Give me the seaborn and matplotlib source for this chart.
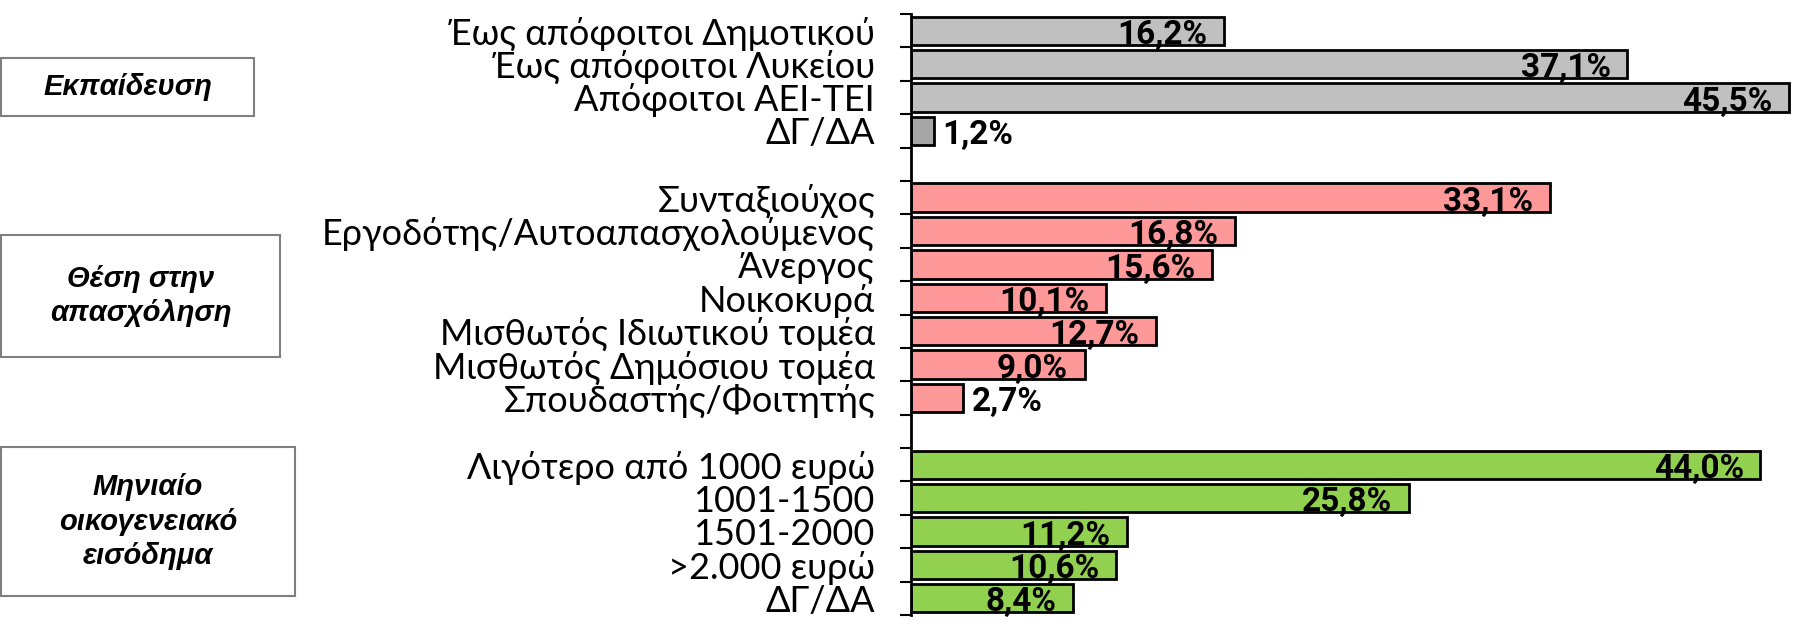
import matplotlib
matplotlib.use("Agg")
import matplotlib.pyplot as plt
from matplotlib.patches import Rectangle
import seaborn as sns
import pandas as pd
import numpy as np

# ---- data ----
edu_labels = ["Έως απόφοιτοι Δημοτικού", "Έως απόφοιτοι Λυκείου", "Απόφοιτοι ΑΕΙ-ΤΕΙ", "ΔΓ/ΔΑ"]
edu_values = [16.2, 37.1, 45.5, 1.2]
job_labels = ["Συνταξιούχος", "Εργοδότης/Αυτοαπασχολούμενος", "Άνεργος", "Νοικοκυρά",
              "Μισθωτός Ιδιωτικού τομέα", "Μισθωτός Δημόσιου τομέα", "Σπουδαστής/Φοιτητής"]
job_values = [33.1, 16.8, 15.6, 10.1, 12.7, 9.0, 2.7]
inc_labels = ["Λιγότερο από 1000 ευρώ", "1001-1500", "1501-2000", ">2.000 ευρώ", "ΔΓ/ΔΑ"]
inc_values = [44.0, 25.8, 11.2, 10.6, 8.4]
group_titles = ["Εκπαίδευση", "Θέση στην\nαπασχόληση", "Μηνιαίο\nοικογενειακό\nεισόδημα"]

# ---- styling ----
GRAY, DARKGRAY, PINK, GREEN = "#C0C0C0", "#A6A6A6", "#FF9999", "#92D050"

sns.set_style("white")
plt.rcParams["font.family"] = ["Lato", "DejaVu Sans"]
plt.rcParams["text.color"] = "black"
plt.rcParams["ytick.color"] = "black"
plt.rcParams["ytick.labelcolor"] = "black"

labels, values, pos, colors = [], [], [], []
p = 0
for grp_labels, grp_vals, col in [(edu_labels, edu_values, GRAY),
                                  (job_labels, job_values, PINK),
                                  (inc_labels, inc_values, GREEN)]:
    for l, v in zip(grp_labels, grp_vals):
        labels.append(l)
        values.append(v)
        pos.append(p)
        colors.append(col)
        p += 1
    p += 1  # spacer slot
colors[3] = DARKGRAY
nslots = p - 1

df = pd.DataFrame({"value": values, "pos": pos})

fig = plt.figure(figsize=(17.99, 6.21), dpi=100)
ax = fig.add_axes([911 / 1799, 6 / 621, 1 - 911 / 1799, (617 - 16) / 621])

sns.barplot(data=df, x="value", y="pos", orient="h", native_scale=True,
            color=GRAY, width=0.85, edgecolor="black", linewidth=2, ax=ax, errorbar=None)

color_by_pos = dict(zip(pos, colors))
for patch in ax.patches:
    yc = patch.get_y() + patch.get_height() / 2
    patch.set_facecolor(color_by_pos[int(round(yc))])

ax.set_xlim(0, 46)
ax.set_ylim(nslots - 0.5, -0.5)
ax.set_xlabel("")
ax.set_ylabel("")
ax.xaxis.set_visible(False)
for s in ["top", "right", "bottom"]:
    ax.spines[s].set_visible(False)
ax.spines["left"].set_linewidth(2)
ax.spines["left"].set_color("black")

ax.set_yticks(pos)
ax.set_yticklabels(labels, fontsize=26, fontweight="normal", color="black")
ax.tick_params(axis="y", which="major", left=False, length=0, pad=26, labelcolor="black")
ax.set_yticks(np.arange(-0.5, nslots, 1.0), minor=True)
ax.tick_params(axis="y", which="minor", left=True, length=8, width=1.5,
               direction="out", color="black")

# data labels
lab_font = ["Roboto", "DejaVu Sans"]
for v, y in zip(values, pos):
    txt = f"{v:.1f}%".replace(".", ",")
    if v < 5:
        ax.annotate(txt, (v, y), xytext=(6, -3), textcoords="offset points",
                    ha="left", va="center", fontsize=24, fontweight="bold",
                    family=lab_font, color="black")
    else:
        ax.annotate(txt, (v, y), xytext=(-12, -3), textcoords="offset points",
                    ha="right", va="center", fontsize=24, fontweight="bold",
                    family=lab_font, color="black")

# group boxes
boxes = [(1, 58, 254, 116), (1, 235, 280, 357), (1, 447, 295, 596)]
for (x0, y0, x1, y1), title in zip(boxes, group_titles):
    fx0, fx1 = x0 / 1799, x1 / 1799
    fy0, fy1 = 1 - y1 / 621, 1 - y0 / 621
    fig.add_artist(Rectangle((fx0, fy0), fx1 - fx0, fy1 - fy0, transform=fig.transFigure,
                             facecolor="white", edgecolor="#7F7F7F", linewidth=1.5))
    fig.text((fx0 + fx1) / 2, (fy0 + fy1) / 2, title, ha="center", va="center",
             fontsize=21, fontweight="bold", fontstyle="italic", color="black",
             family=["Liberation Sans", "DejaVu Sans"], linespacing=1.3)

fig.savefig("out.png", dpi=100)
